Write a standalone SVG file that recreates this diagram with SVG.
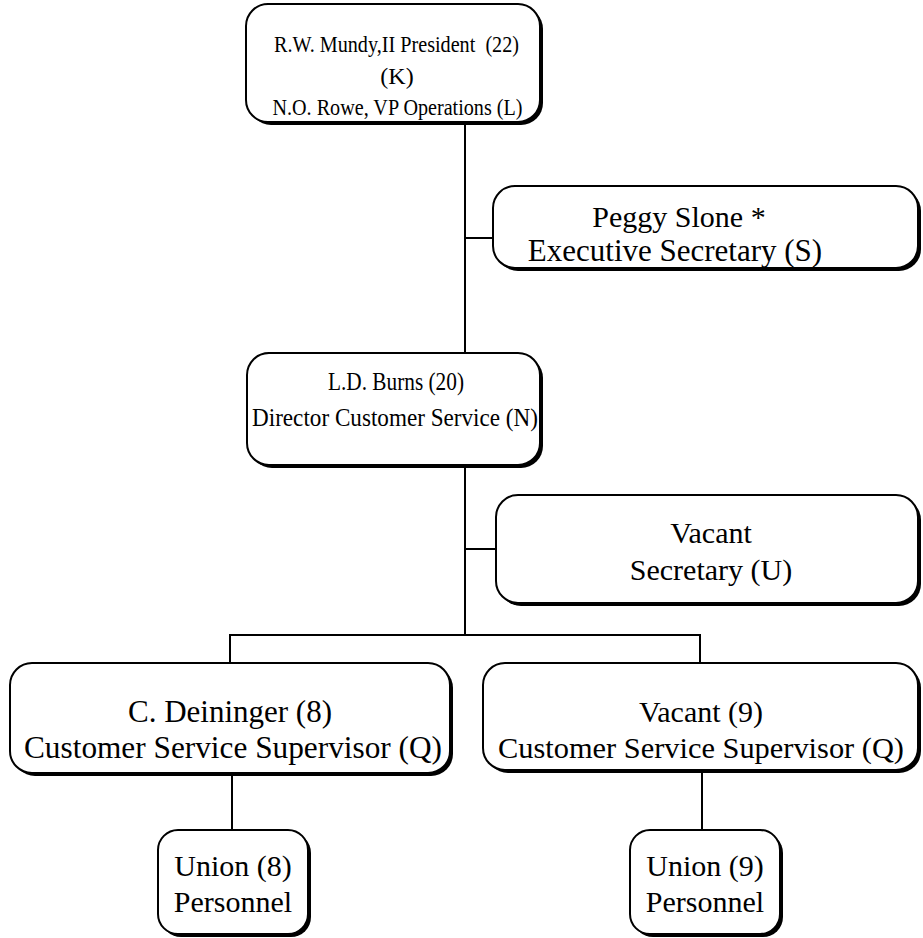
<svg xmlns="http://www.w3.org/2000/svg" width="923" height="938" viewBox="0 0 923 938">
  <style>
    .shadow { fill: #000; }
    .box { fill: #fff; stroke: #000; stroke-width: 2; }
    .wire { fill: none; stroke: #000; stroke-width: 2; }
    text { font-family: "Liberation Serif", "Times New Roman", serif; fill: #000; text-anchor: middle; }
    .s23 { font-size: 24px; }
    .s25 { font-size: 25.5px; }
    .s30 { font-size: 30px; }
    .s31 { font-size: 31px; }
  </style>

  <!-- connectors -->
  <g id="connectors">
    <path class="wire" d="M465,122 V353"/>
    <path class="wire" d="M465,238 H493"/>
    <path class="wire" d="M465,465 V635"/>
    <path class="wire" d="M465,549 H496"/>
    <path class="wire" d="M230,663 V635 H700 V663"/>
    <path class="wire" d="M232,773 V830"/>
    <path class="wire" d="M702,770 V830"/>
  </g>

  <!-- president / VP operations -->
  <g id="president">
    <rect class="shadow" x="249" y="7" width="294" height="118" rx="22"/>
    <rect class="box" x="246" y="4" width="294" height="118" rx="22"/>
    <text class="s23" x="396.5" y="52" textLength="245" lengthAdjust="spacingAndGlyphs" xml:space="preserve">R.W. Mundy,II President  (22)</text>
    <text class="s23" x="397" y="84">(K)</text>
    <text class="s23" x="397.5" y="115" textLength="250" lengthAdjust="spacingAndGlyphs">N.O. Rowe, VP Operations (L)</text>
  </g>

  <!-- executive secretary -->
  <g id="exec-secretary">
    <rect class="shadow" x="496" y="189" width="425" height="82" rx="22"/>
    <rect class="box" x="493" y="186" width="425" height="82" rx="22"/>
    <text class="s30" x="679" y="227">Peggy Slone *</text>
    <text class="s31" x="675" y="261">Executive Secretary (S)</text>
  </g>

  <!-- director customer service -->
  <g id="director">
    <rect class="shadow" x="250" y="356" width="293" height="112" rx="22"/>
    <rect class="box" x="247" y="353" width="293" height="112" rx="22"/>
    <text class="s25" x="396" y="390" textLength="136" lengthAdjust="spacingAndGlyphs">L.D. Burns (20)</text>
    <text class="s25" x="395" y="426" textLength="286" lengthAdjust="spacingAndGlyphs">Director Customer Service (N)</text>
  </g>

  <!-- secretary -->
  <g id="secretary">
    <rect class="shadow" x="499" y="498" width="422" height="108" rx="22"/>
    <rect class="box" x="496" y="495" width="422" height="108" rx="22"/>
    <text class="s30" x="711" y="543">Vacant</text>
    <text class="s30" x="711" y="580">Secretary (U)</text>
  </g>

  <!-- supervisor, left -->
  <g id="supervisor-8">
    <rect class="shadow" x="13" y="666" width="440" height="110" rx="22"/>
    <rect class="box" x="10" y="663" width="440" height="110" rx="22"/>
    <text class="s31" x="230" y="722">C. Deininger (8)</text>
    <text class="s31" x="233" y="758" textLength="418" lengthAdjust="spacingAndGlyphs">Customer Service Supervisor (Q)</text>
  </g>

  <!-- supervisor, right -->
  <g id="supervisor-9">
    <rect class="shadow" x="486" y="666" width="435" height="107" rx="22"/>
    <rect class="box" x="483" y="663" width="435" height="107" rx="22"/>
    <text class="s30" x="701" y="722">Vacant (9)</text>
    <text class="s30" x="701" y="758" textLength="406" lengthAdjust="spacingAndGlyphs">Customer Service Supervisor (Q)</text>
  </g>

  <!-- union personnel, left -->
  <g id="union-8">
    <rect class="shadow" x="161" y="833" width="150" height="104" rx="20"/>
    <rect class="box" x="158" y="830" width="150" height="104" rx="20"/>
    <text class="s30" x="233" y="876">Union (8)</text>
    <text class="s30" x="233" y="912">Personnel</text>
  </g>

  <!-- union personnel, right -->
  <g id="union-9">
    <rect class="shadow" x="633" y="833" width="150" height="104" rx="20"/>
    <rect class="box" x="630" y="830" width="150" height="104" rx="20"/>
    <text class="s30" x="705" y="876">Union (9)</text>
    <text class="s30" x="705" y="912">Personnel</text>
  </g>
</svg>
